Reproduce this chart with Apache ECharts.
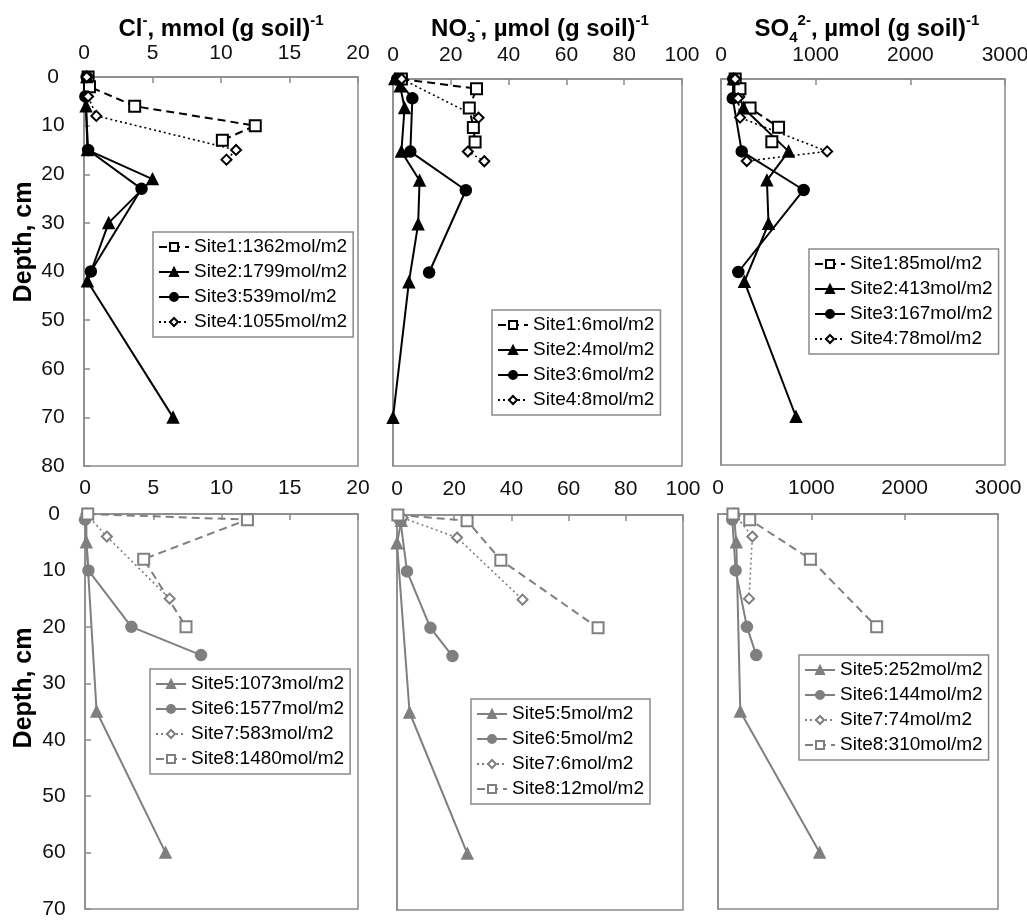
<!DOCTYPE html>
<html>
<head>
<meta charset="utf-8">
<script src="https://cdn.jsdelivr.net/npm/echarts@6/dist/echarts.min.js"></script>
<style>html,body{margin:0;padding:0;background:#fff}#c{width:1027px;height:921px}</style>
</head>
<body>
<div id="c"></div>
<script>
// ---------- DATA: [value, depth(cm)] ----------
// Top row: Sites 1-4
const clSite1 = [[0.3,0],[0.4,2],[3.7,6],[12.5,10],[10.1,13]];
const clSite2 = [[0.2,0],[0.15,6],[0.25,15],[5.0,21],[1.8,30],[0.25,42],[6.5,70]];
const clSite3 = [[0.2,0],[0.1,4],[0.3,15],[4.2,23],[0.5,40]];
const clSite4 = [[0.2,0],[0.3,4],[0.9,8],[11.1,15],[10.4,17]];

const no3Site1 = [[2.9,0],[28.9,2],[26.4,6],[27.8,10],[28.4,13]];
const no3Site2 = [[0.6,0],[2.5,1.5],[4.0,6],[2.9,15],[9.2,21],[8.7,30],[5.5,42],[0,70]];
const no3Site3 = [[1.5,0],[6.7,4],[6.0,15],[25.2,23],[12.5,40]];
const no3Site4 = [[3,0],[29.6,8],[25.9,15],[31.6,17]];

const so4Site1 = [[150,0],[200,2],[307,6],[608,10],[537,13]];
const so4Site2 = [[130,0],[237,6],[714,15],[485,21],[502,30],[247,42],[792,70]];
const so4Site3 = [[130,0],[124,4],[219,15],[873,23],[183,40]];
const so4Site4 = [[150,0],[180,4],[201,8],[1121,15],[272,17]];

// Bottom row: Sites 5-8
const clSite5 = [[0.1,0],[0.1,5],[0.85,35],[5.9,60]];
const clSite6 = [[0,1],[0.25,10],[3.4,20],[8.5,25]];
const clSite7 = [[0.1,0],[1.6,4],[6.2,15]];
const clSite8 = [[0.2,0],[11.9,1],[4.3,8],[7.4,20]];

const no3Site5 = [[1.5,1],[0,5],[4.4,35],[24.6,60]];
const no3Site6 = [[1.2,1],[3.5,10],[11.7,20],[19.4,25]];
const no3Site7 = [[2,0.5],[21,4],[43.9,15]];
const no3Site8 = [[0.3,0],[24.5,1],[36.3,8],[70.3,20]];

const so4Site5 = [[170,0],[196,5],[239,35],[1089,60]];
const so4Site6 = [[153,1],[189,10],[310,20],[410,25]];
const so4Site7 = [[175,0],[368,4],[332,15]];
const so4Site8 = [[160,0],[340,1],[990,8],[1700,20]];

// Legend labels
const clNamesTop  = ['Site1:1362mol/m2','Site2:1799mol/m2','Site3:539mol/m2','Site4:1055mol/m2'];
const no3NamesTop = ['Site1:6mol/m2','Site2:4mol/m2','Site3:6mol/m2','Site4:8mol/m2'];
const so4NamesTop = ['Site1:85mol/m2','Site2:413mol/m2','Site3:167mol/m2','Site4:78mol/m2'];
const clNamesBot  = ['Site5:1073mol/m2','Site6:1577mol/m2','Site7:583mol/m2','Site8:1480mol/m2'];
const no3NamesBot = ['Site5:5mol/m2','Site6:5mol/m2','Site7:6mol/m2','Site8:12mol/m2'];
const so4NamesBot = ['Site5:252mol/m2','Site6:144mol/m2','Site7:74mol/m2','Site8:310mol/m2'];

// Axis ranges [min, max, interval]
const clAxis  = [0, 20, 5];
const no3Axis = [0, 100, 20];
const so4Axis = [0, 3000, 1000];
const depthTop = [0, 80, 10];
const depthBot = [0, 70, 10];

// ---------- STYLE ----------
const FONT = "'Liberation Sans', Arial, Helvetica, sans-serif";
const BLACK = '#000000';
const GRAY = '#7f7f7f';
const FRAME = '#8a8a8a';

const grids = [
  {left:84,  top:77,  width:274, height:389},
  {left:393, top:79,  width:289, height:387},
  {left:721, top:79,  width:284, height:386},
  {left:85,  top:514, width:273, height:395},
  {left:397, top:515, width:286, height:395},
  {left:718, top:514, width:280, height:395}
].map(g => Object.assign({show:true, borderColor:FRAME, borderWidth:1.5, backgroundColor:'transparent', outerBoundsMode:'none', containLabel:false}, g));

const xRanges = [clAxis, no3Axis, so4Axis, clAxis, no3Axis, so4Axis];
const xMargins = [13,13,13,15,15,15];
const xAxes = xRanges.map((r, i) => ({
  type:'value', gridIndex:i, position:'top', min:r[0], max:r[1], interval:r[2],
  axisLine:{show:true, onZero:false, lineStyle:{color:FRAME, width:1.5}},
  axisTick:{show:true, inside:true, length:6, lineStyle:{color:FRAME, width:1.5}},
  splitLine:{show:false},
  axisLabel:{show:true, fontSize:21, color:'#111', fontFamily:FONT, margin:xMargins[i], showMinLabel:true, showMaxLabel:true, hideOverlap:false, formatter: v => String(v)}
}));

const yAxes = [0,1,2,3,4,5].map(i => {
  const r = i < 3 ? depthTop : depthBot;
  const left = (i % 3) === 0;
  return {
    type:'value', gridIndex:i, inverse:true, min:r[0], max:r[1], interval:r[2],
    axisLine:{show:true, onZero:false, lineStyle:{color:FRAME, width:1.5}},
    axisTick:{show:left, inside:true, length:6, lineStyle:{color:FRAME, width:1.5}},
    splitLine:{show:false},
    axisLabel:{show:left, fontSize:21, color:'#111', fontFamily:FONT, align:'center', margin:31, formatter: v => String(v)}
  };
});

function mk(name, data, gi, kind, color) {
  const s = {
    type:'line', name, data, xAxisIndex:gi, yAxisIndex:gi, clip:false,
    showSymbol:true, z: 3,
    itemStyle:{color, borderColor:color, borderWidth:1.5},
    lineStyle:{color, width:2, type:'solid'}
  };
  if (kind === 'dash') { s.symbol = 'emptyRect'; s.symbolSize = 11; s.lineStyle.type = [8,5]; }
  if (kind === 'tri')  { s.symbol = 'triangle'; s.symbolSize = 11; }
  if (kind === 'circ') { s.symbol = 'circle'; s.symbolSize = 11; }
  if (kind === 'dot')  { s.symbol = 'emptyDiamond'; s.symbolSize = 10; s.lineStyle.type = [2,3]; s.lineStyle.width = 1.6; }
  return s;
}

const kinds = ['dash','tri','circ','dot'];
const kindsBot = ['tri','circ','dot','dash'];
const series = [];
[[clSite1,clSite2,clSite3,clSite4], [no3Site1,no3Site2,no3Site3,no3Site4], [so4Site1,so4Site2,so4Site3,so4Site4]]
  .forEach((set, gi) => {
    const names = [clNamesTop, no3NamesTop, so4NamesTop][gi];
    set.forEach((d, k) => series.push(mk(names[k], d, gi, kinds[k], BLACK)));
  });
[[clSite5,clSite6,clSite7,clSite8], [no3Site5,no3Site6,no3Site7,no3Site8], [so4Site5,so4Site6,so4Site7,so4Site8]]
  .forEach((set, gi) => {
    const names = [clNamesBot, no3NamesBot, so4NamesBot][gi];
    set.forEach((d, k) => series.push(mk(names[k], d, gi + 3, kindsBot[k], GRAY)));
  });

const legendPos = [[153,232],[492,310],[809,249],[150,669],[471,699],[799,655]];
const legendNames = [clNamesTop, no3NamesTop, so4NamesTop, clNamesBot, no3NamesBot, so4NamesBot];
const legends = legendPos.map((p, i) => ({
  left:p[0], top:p[1], orient:'vertical', data:legendNames[i], selectedMode:false,
  itemWidth:30, itemHeight:10, itemGap:5, padding:[5,6,5,5],
  borderColor:FRAME, borderWidth:1.5, backgroundColor:'#fff',
  textStyle:{fontSize:19, lineHeight:20, color:'#000', fontFamily:FONT}
}));

const rich = {
  b:{fontSize:24, fontWeight:'bold', fontFamily:FONT, color:'#000', lineHeight:32},
  sp:{fontSize:15, fontWeight:'bold', fontFamily:FONT, color:'#000', lineHeight:24, verticalAlign:'top'},
  sb:{fontSize:15, fontWeight:'bold', fontFamily:FONT, color:'#000', lineHeight:20, verticalAlign:'bottom'}
};
const titles = [
  {left:221, text:'{b|Cl}{sp|-}{b|, mmol (g soil)}{sp|-1}'},
  {left:540, text:'{b|NO}{sb|3}{sp|-}{b|, µmol (g soil)}{sp|-1}'},
  {left:867, text:'{b|SO}{sb|4}{sp|2-}{b|, µmol (g soil)}{sp|-1}'}
].map(t => Object.assign({top:13, padding:0, textAlign:'center', textStyle:{rich}}, t));

const option = {
  animation:false,
  backgroundColor:'#fff',
  textStyle:{fontFamily:FONT},
  title:titles,
  grid:grids,
  xAxis:xAxes,
  yAxis:yAxes,
  legend:legends,
  series,
  graphic:[
    {type:'text', x:24, y:242, rotation:Math.PI/2, style:{text:'Depth, cm', fontSize:25, fontWeight:'bold', fontFamily:FONT, fill:'#000', align:'center', verticalAlign:'middle'}},
    {type:'text', x:24, y:688, rotation:Math.PI/2, style:{text:'Depth, cm', fontSize:25, fontWeight:'bold', fontFamily:FONT, fill:'#000', align:'center', verticalAlign:'middle'}}
  ]
};
const chart = echarts.init(document.getElementById('c'), null, {renderer:'canvas'});
chart.setOption(option);
</script>
</body>
</html>
